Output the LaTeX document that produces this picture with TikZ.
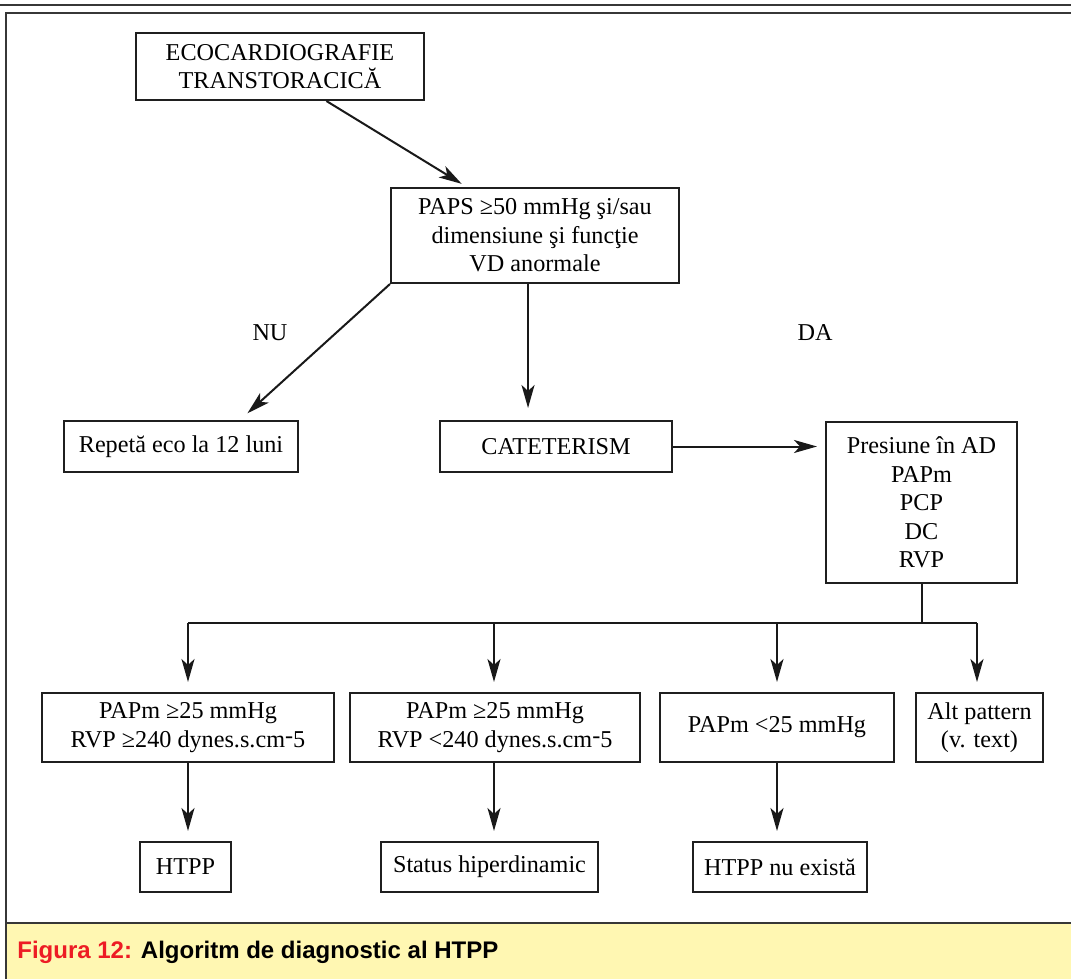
\documentclass[tikz,border=0pt]{standalone}
\usepackage{fontspec}
\setmainfont{Liberation Serif}
\newfontfamily\capfont{Liberation Sans}
\usetikzlibrary{arrows.meta,calc}
\definecolor{capyellow}{RGB}{255,247,178}
\definecolor{capred}{RGB}{237,28,36}
\definecolor{framegray}{RGB}{55,55,55}
\begin{document}
\begin{tikzpicture}[x=0.5pt,y=-0.5pt,
  box/.style={draw=black!88,line width=1pt,align=center,inner sep=0pt,
    font=\fontsize{12.1}{14.3}\selectfont},
  arr/.style={-{Stealth[length=11.5pt,width=6.5pt,inset=3pt]},line width=1pt,black!90},
  lbl/.style={font=\fontsize{12.1}{14.3}\selectfont,inner sep=0pt},
  framel/.style={draw=framegray,line width=1.3pt}]
\useasboundingbox (0,0) rectangle (1071,979);
% frame and caption
\fill[capyellow] (6,923) rectangle (1080,990);
\draw[framegray,line width=0.9pt] (0,5) -- (1071,5);
\draw[framel] (1080,13) -- (6,13) -- (6,990);
\draw[framel] (6,923) -- (1080,923);
\node[anchor=base west,inner sep=0pt,font=\capfont\bfseries\fontsize{12}{14}\selectfont] (cap) at (17,958)
  {\textcolor{capred}{Figura 12:} Algoritm de diagnostic al HTPP};
% nodes
\node[box,minimum width=144pt,minimum height=33.5pt] (eco) at (280,66.5)
  {ECOCARDIOGRAFIE\\TRANSTORACICĂ};
\node[box,minimum width=144pt,minimum height=47.5pt] (paps) at (535,235.5)
  {PAPS ≥50 mmHg şi/sau\\dimensiune şi funcţie\\VD anormale};
\node[box,minimum width=117pt,minimum height=25.5pt] (rep) at (181,446.5)
  {Repetă eco la 12 luni};
\node[box,minimum width=116pt,minimum height=25.5pt] (cat) at (556,446.5)
  {CATETERISM};
\node[box,minimum width=95.5pt,minimum height=80.5pt] (pres) at (921.5,502.5)
  {Presiune în AD\\PAPm\\PCP\\DC\\RVP};
\node[box,minimum width=146pt,minimum height=34.5pt] (ra) at (188,727.5)
  {PAPm ≥25 mmHg\\RVP ≥240 dynes.s.cm\raisebox{0.35ex}{-}5};
\node[box,minimum width=145pt,minimum height=34.5pt] (rb) at (495,727.5)
  {PAPm ≥25 mmHg\\RVP <240 dynes.s.cm\raisebox{0.35ex}{-}5};
\node[box,minimum width=117pt,minimum height=34.5pt] (rc) at (777,727.5)
  {PAPm <25 mmHg};
\node[box,minimum width=63.5pt,minimum height=34.5pt] (rd) at (979.5,727.5)
  {Alt pattern\\(v. text)};
\node[box,minimum width=45.5pt,minimum height=25pt] (ha) at (185.5,867)
  {HTPP};
\node[box,minimum width=108.5pt,minimum height=25pt] (hb) at (489.5,867)
  {Status hiperdinamic};
\node[box,minimum width=87pt,minimum height=25pt] (hc) at (780,867)
  {HTPP nu există};
\node[lbl] (nu) at (270,333) {NU};
\node[lbl] (da) at (815,333) {DA};
% connectors
\coordinate (e1) at ($(eco.south west)!0.66!(eco.south east)$);
\coordinate (p1) at ($(paps.north west)!0.265!(paps.north east)$);
\coordinate (r1) at ($(rep.north west)!0.75!(rep.north east)$);
\coordinate (p2) at ($(paps.south west)!0.476!(paps.south east)$);
\draw[arr,shorten >=3pt] (e1) -- (p1);
\draw[arr,shorten >=5pt] (paps.south west) -- (r1);
\draw[arr,shorten >=6pt] (p2) -- (p2 |- cat.north);
\draw[arr,shorten >=4pt] (cat.east) -- (cat.east -| pres.west);
\coordinate (bar) at (921,623);
\coordinate (bl) at (188,623);
\coordinate (bb) at (494,623);
\coordinate (bc) at (777,623);
\coordinate (bd) at (977,623);
\coordinate (bbs) at (494,762);
\draw[line width=1pt,black!90] (pres.south) -- (pres.south |- bar);
\draw[line width=1.3pt,black!90] (bl) -- (bd);
\draw[arr,shorten >=5pt] (bl) -- (bl |- ra.north);
\draw[arr,shorten >=5pt] (bb) -- (bb |- rb.north);
\draw[arr,shorten >=5pt] (bc) -- (bc |- rc.north);
\draw[arr,shorten >=5pt] (bd) -- (bd |- rd.north);
\draw[arr,shorten >=5pt] (ra.south) -- (ra.south |- ha.north);
\draw[arr,shorten >=5pt] (bbs) -- (bbs |- hb.north);
\draw[arr,shorten >=5pt] (rc.south) -- (rc.south |- hc.north);
\end{tikzpicture}
\end{document}
